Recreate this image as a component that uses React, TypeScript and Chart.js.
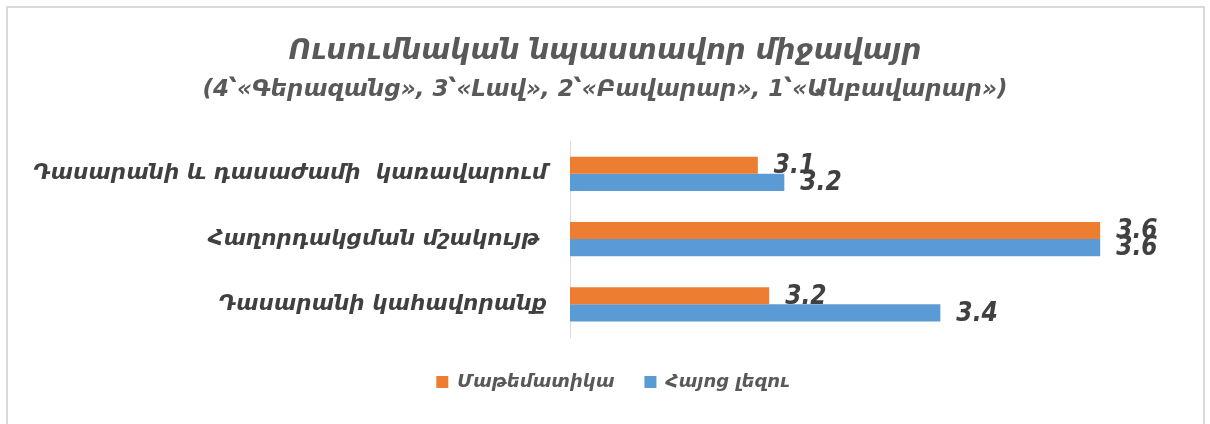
import React, { useEffect, useRef } from "react";
import { Chart, registerables } from "chart.js";

Chart.register(...registerables);

const categories = [
  "Դասարանի և դասաժամի  կառավարում",
  "Հաղորդակցման մշակույթ ",
  "Դասարանի կահավորանք",
];
const mathValues = [3.148, 3.6, 3.163];
const armenianValues = [3.183, 3.6, 3.389];
const seriesNames = ["Մաթեմատիկա", "Հայոց լեզու"];
const seriesColors = ["#ED7D31", "#5B9BD5"];
const titleText = "Ուսումնական նպաստավոր միջավայր";
const subtitleText = "(4՝«Գերազանց», 3՝«Լավ», 2՝«Բավարար», 1՝«Անբավարար»)";
const axisMin = 2.9;
const axisMax = 3.745;

const FONT = "'DejaVu Sans', sans-serif";
const NUM_FONT = "'DejaVu Sans Condensed', 'DejaVu Sans', sans-serif";

const valueLabelPlugin = {
  id: "valueLabels",
  afterDatasetsDraw(chart: any) {
    const ctx = chart.ctx;
    ctx.save();
    ctx.font = `italic bold 26px ${NUM_FONT}`;
    ctx.fillStyle = "#404040";
    ctx.textAlign = "left";
    ctx.textBaseline = "middle";
    chart.data.datasets.forEach((ds: any, i: number) => {
      const meta = chart.getDatasetMeta(i);
      meta.data.forEach((el: any, j: number) => {
        const v = ds.data[j] as number;
        ctx.fillText(v.toFixed(1), el.x + 16, el.y + 1);
      });
    });
    ctx.restore();
  },
};

const legendShiftPlugin = {
  id: "legendShift",
  afterLayout(chart: any) {
    const lg = chart.legend;
    if (lg) {
      lg.left += 8;
      lg.right += 8;
    }
  },
};

export default function App() {
  const ref = useRef<HTMLCanvasElement>(null);
  useEffect(() => {
    if (!ref.current) return;
    const chart = new Chart(ref.current, {
      type: "bar",
      data: {
        labels: categories,
        datasets: [
          {
            label: seriesNames[0],
            data: mathValues,
            backgroundColor: seriesColors[0],
            borderWidth: 0,
            categoryPercentage: 0.526,
            barPercentage: 1,
          },
          {
            label: seriesNames[1],
            data: armenianValues,
            backgroundColor: seriesColors[1],
            borderWidth: 0,
            categoryPercentage: 0.526,
            barPercentage: 1,
          },
        ],
      },
      options: {
        indexAxis: "y",
        responsive: false,
        animation: false,
        layout: { padding: { left: 0, right: 0, top: 0, bottom: 23 } },
        scales: {
          x: {
            type: "linear",
            min: axisMin,
            max: axisMax,
            display: true,
            ticks: { display: false },
            grid: { display: false, drawTicks: false },
            border: { display: false },
            afterFit: (scale: any) => {
              scale.height = 6;
            },
          },
          y: {
            grid: { display: false, drawTicks: false },
            border: { display: true, color: "#d9d9d9", width: 1 },
            ticks: {
              color: "#404040",
              padding: 23,
              font: { family: FONT, size: 21.5, style: "italic", weight: "bold" },
            },
            afterFit: (scale: any) => {
              scale.width = 570;
            },
          },
        },
        plugins: {
          title: {
            display: true,
            text: titleText,
            color: "#595959",
            font: { family: FONT, size: 28, style: "italic", weight: "bold" },
            padding: { top: 35, bottom: 8 },
          },
          subtitle: {
            display: true,
            text: subtitleText,
            color: "#595959",
            font: { family: FONT, size: 23, style: "italic", weight: "bold" },
            padding: { top: 0, bottom: 37 },
          },
          legend: {
            position: "bottom",
            labels: {
              boxWidth: 12,
              boxHeight: 12,
              padding: 30,
              color: "#595959",
              font: { family: FONT, size: 18, style: "italic", weight: "bold" },
            },
          },
          tooltip: { enabled: false },
        },
      },
      plugins: [valueLabelPlugin, legendShiftPlugin],
    } as any);
    return () => chart.destroy();
  }, []);

  return (
    <div
      style={{
        position: "absolute",
        left: 0,
        top: 0,
        width: 1210,
        height: 424,
        background: "#ffffff",
        overflow: "hidden",
      }}
    >
      <div
        style={{
          position: "absolute",
          left: 6,
          top: 6,
          width: 1199,
          height: 440,
          border: "2px solid #d9d9d9",
          boxSizing: "border-box",
        }}
      />
      <canvas
        ref={ref}
        width={1210}
        height={424}
        style={{ position: "absolute", left: 0, top: 0 }}
      />
    </div>
  );
}
